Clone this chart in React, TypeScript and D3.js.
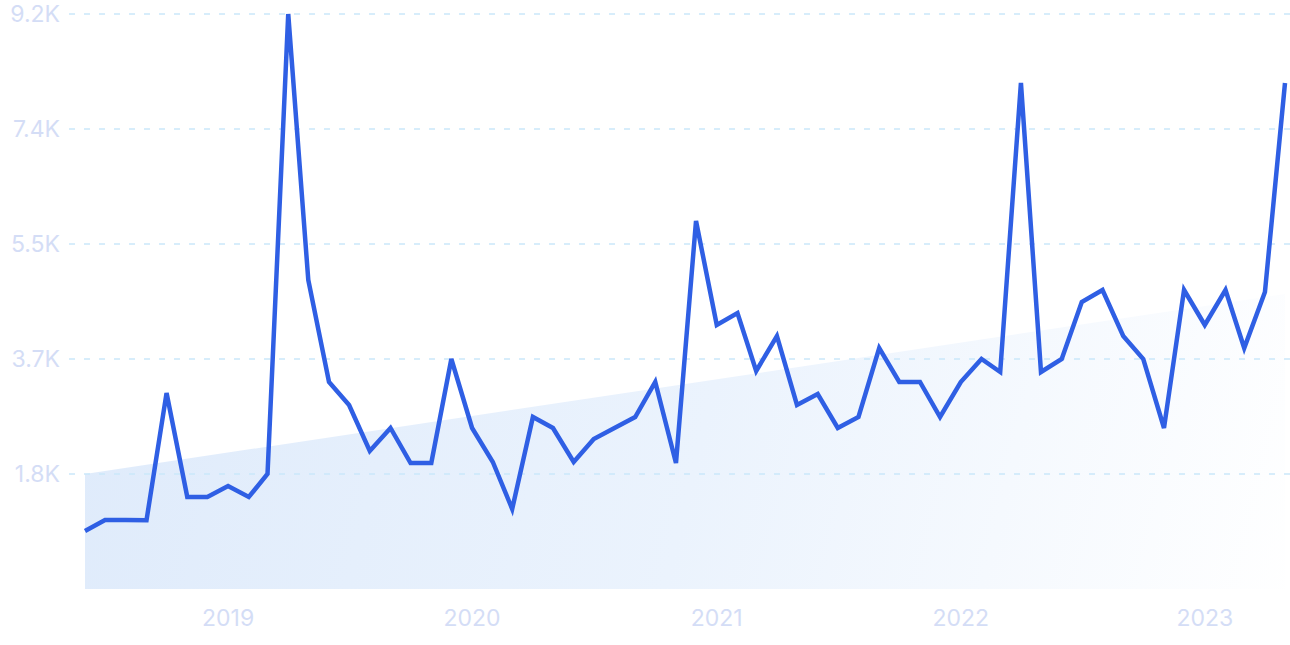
import React from "react";
import * as d3 from "d3";

const startMonth = "2018-06";
const values: number[] = [
  928, 1104, 1104, 1100, 3136, 1472, 1472, 1648, 1472, 1840,
  9200, 4944, 3312, 2944, 2208, 2576, 2016, 2016, 3680, 2576,
  2032, 1280, 2752, 2576, 2032, 2400, 2576, 2752, 3312, 2016,
  5888, 4224, 4416, 3488, 4048, 2944, 3120, 2576, 2752, 3856,
  3312, 3312, 2752, 3312, 3680, 3472, 8096, 3472, 3680, 4592,
  4784, 4048, 3680, 2576, 4784, 4224, 4784, 3856, 4752, 8096,
];
const trendStart = 1840;
const trendEnd = 4720;
const yTicks = [1840, 3680, 5520, 7360, 9200];
const yTickLabels = ["1.8K", "3.7K", "5.5K", "7.4K", "9.2K"];
const xTickYears = [2019, 2020, 2021, 2022, 2023];

const W = 1290;
const H = 645;

export default function App() {
  const parse = d3.timeParse("%Y-%m");
  const start = parse(startMonth) as Date;
  const dates = values.map((_, i) => d3.timeMonth.offset(start, i));
  const x = d3
    .scaleTime()
    .domain([dates[0], dates[dates.length - 1]])
    .range([85, 1285]);
  const y = d3.scaleLinear().domain([0, 9200]).range([589, 14]);

  const pts = values.map((v, i) => ({ d: dates[i], v }));
  const line = d3
    .line<{ d: Date; v: number }>()
    .x((p) => x(p.d))
    .y((p) => y(p.v));

  const trend = [
    { d: dates[0], v: trendStart },
    { d: dates[dates.length - 1], v: trendEnd },
  ];
  const area = d3
    .area<{ d: Date; v: number }>()
    .x((p) => x(p.d))
    .y0(y(0))
    .y1((p) => y(p.v));

  const font = "Inter, 'Noto Sans', sans-serif";
  const textColor = "#d4ddf6";

  return (
    <svg
      width={W}
      height={H}
      style={{ position: "absolute", left: 0, top: 0, background: "#ffffff" }}
    >
      <defs>
        <linearGradient
          id="trendGrad"
          gradientUnits="userSpaceOnUse"
          x1={85}
          y1={360}
          x2={1285}
          y2={650}
        >
          <stop offset="0" stopColor="#dfebfb" />
          <stop offset="0.5" stopColor="#ebf3fd" />
          <stop offset="1" stopColor="#ffffff" />
        </linearGradient>
      </defs>
      <path d={area(trend) ?? ""} fill="url(#trendGrad)" />
      {yTicks.map((t, i) => (
        <g key={t}>
          <line
            x1={69}
            x2={1290}
            y1={y(t)}
            y2={y(t)}
            stroke="#cae8fa"
            strokeWidth={1.5}
            strokeDasharray="6 9"
          />
          <text
            x={60}
            y={y(t)}
            textAnchor="end"
            dominantBaseline="central"
            fontFamily={font}
            fontSize={23}
            fill={textColor}
          >
            {yTickLabels[i]}
          </text>
        </g>
      ))}
      {xTickYears.map((yr) => (
        <text
          key={yr}
          x={x(new Date(yr, 0, 1))}
          y={626}
          textAnchor="middle"
          fontFamily={font}
          fontSize={23}
          fill={textColor}
        >
          {yr}
        </text>
      ))}
      <path
        d={line(pts) ?? ""}
        fill="none"
        stroke="#2f5fe4"
        strokeWidth={4.5}
      />
    </svg>
  );
}
